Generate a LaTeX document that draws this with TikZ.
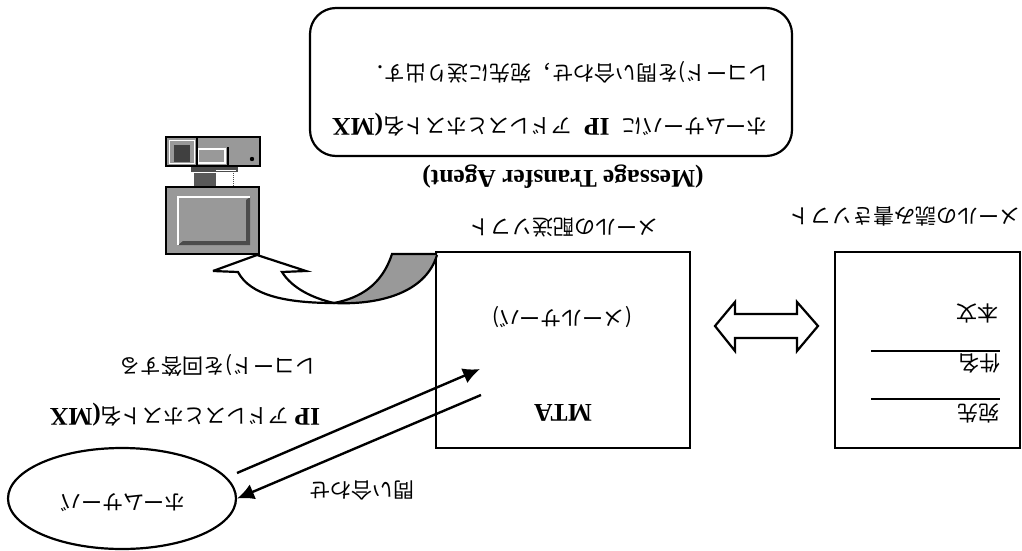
\documentclass[tikz,border=0pt]{standalone}
\usepackage{fontspec}
\setmainfont{Noto Sans CJK JP}
\newfontfamily\latfont{Liberation Serif}
\usetikzlibrary{arrows.meta,shapes.geometric}
\newcommand{\lat}[1]{{\latfont\bfseries\fontsize{25.5}{25.5}\selectfont #1}}
\definecolor{halftone}{gray}{0.6}
\tikzset{
  x=1pt,y=-1pt,
  lbl/.style={rotate=180,inner sep=0pt,font=\fontsize{21}{21}\selectfont},
  frame/.style={draw=black,line width=2.2pt,inner sep=0pt},
  ink/.style={draw=black,line width=2.2pt},
  conn/.style={draw=black,line width=2.4pt,-{Latex[length=17pt,width=16pt]}},
  rule/.style={draw=black,line width=1.6pt},
}
\begin{document}
\begin{tikzpicture}
\useasboundingbox (0,0) rectangle (1022,551);
% rounded box
\node[frame,rounded corners=26pt,minimum width=482pt,minimum height=148pt] (agentbox) at (551,82) {};
\node[lbl] (boxa) at (550,125) {ホームサーバに\hspace{12pt}\lat{IP}\hspace{12pt}アドレスとホスト名\lat{(MX}};
\node[lbl] (boxb) at (567,72) {レコード)を問い合わせ，宛先に送り出す．};
\node[lbl] (mta) at (563,177) {\lat{(Message Transfer Agent)}};
\node[lbl] (soft1) at (564,228) {メールの配送ソフト};
\node[lbl] (soft2) at (905,216) {メールの読み書きソフト};
% MTA box
\node[frame,minimum width=254pt,minimum height=196pt] (mtabox) at (563,350) {};
\node[lbl] (mail) at (562,317) {(メールサーバ)};
\node[lbl] (mtal) at (563,413) {\lat{MTA}};
% right box
\node[frame,minimum width=185pt,minimum height=196pt] (client) at (927.5,350) {};
\node[lbl] (honbun) at (977,313) {本文};
\node[lbl] (kenmei) at (979,363) {件名};
\node[lbl] (atesaki) at (978,413) {宛先};
\coordinate (ra) at (871,351); \coordinate (rb) at (1000,351);
\coordinate (rc) at (871,399); \coordinate (rd) at (1000,399);
\draw[rule] (ra) -- (rb);
\draw[rule] (rc) -- (rd);
% double block arrow
\draw[ink,line join=miter] (715,326) -- (735,302) -- (735,314) -- (797,314) -- (797,302) -- (818,326)
  -- (797,351) -- (797,338) -- (735,338) -- (735,351) -- cycle;
% ellipse
\node[frame,ellipse,minimum width=228pt,minimum height=101pt] (home) at (122,498.5) {};
\node[lbl] (homet) at (123,503) {ホームサーバ};
\node[lbl] (q) at (362,490) {問い合わせ};
\node[lbl] (ans1) at (185,415) {\lat{IP} アドレスとホスト名\lat{(MX}};
\node[lbl] (ans2) at (218,365) {レコード)を回答する};
% connectors
\coordinate (s1) at (237,473); \coordinate (t1) at (480,369);
\coordinate (s2) at (481,395);
\draw[conn] (s1) -- (t1);
\draw[conn] (s2) -- (home.east);
% curved arrow
\fill[halftone] (392,254) .. controls (382,285) and (360,298) .. (334,303)
  .. controls (375,305) and (425,295) .. (437,255) -- cycle;
\draw[ink,line join=miter] (213,271) -- (257,255) -- (306,271) -- (282,272)
  .. controls (292,288) and (312,298) .. (334,303)
  .. controls (360,298) and (382,285) .. (392,254) -- (437,254);
\draw[ink,line join=miter] (437,255) .. controls (425,295) and (375,305) .. (334,303)
  .. controls (285,303) and (250,295) .. (238,272) -- (213,271);
% server icon
\fill[halftone] (166,137) rectangle (260,166);
\fill[white] (169,140) rectangle (195,164);
\fill[halftone] (170,141) rectangle (194,163);
\fill[black!75] (174,145) rectangle (190,162);
\fill[white] (198,148) rectangle (226,164);
\fill[halftone] (199,150) rectangle (224,162);
\draw[black,line width=1.5pt] (197,137) -- (197,166);
\draw[black,line width=1.5pt] (228,147) -- (228,166);
\fill[black] (252,159) circle (2.2pt);
\draw[black,line width=2pt] (166,137) rectangle (260,166);
\fill[black!70] (191,167) rectangle (238,172);
\draw[white,line width=1.2pt] (216,170.5) -- (236,170.5);
\fill[black!65] (194,173) rectangle (216,187);
\draw[black!70,densely dotted,line width=1pt] (233,173) -- (233,187);
\fill[halftone] (166,187) rectangle (259,254);
\fill[black!70] (250,197) -- (250,245) -- (178,245) -- (183,241) -- (246,241) -- (246,200) -- cycle;
\draw[white,line width=2.4pt] (178,245) -- (178,197) -- (250,197);
\draw[black,line width=2pt] (166,187) rectangle (259,254);
\end{tikzpicture}
\end{document}
